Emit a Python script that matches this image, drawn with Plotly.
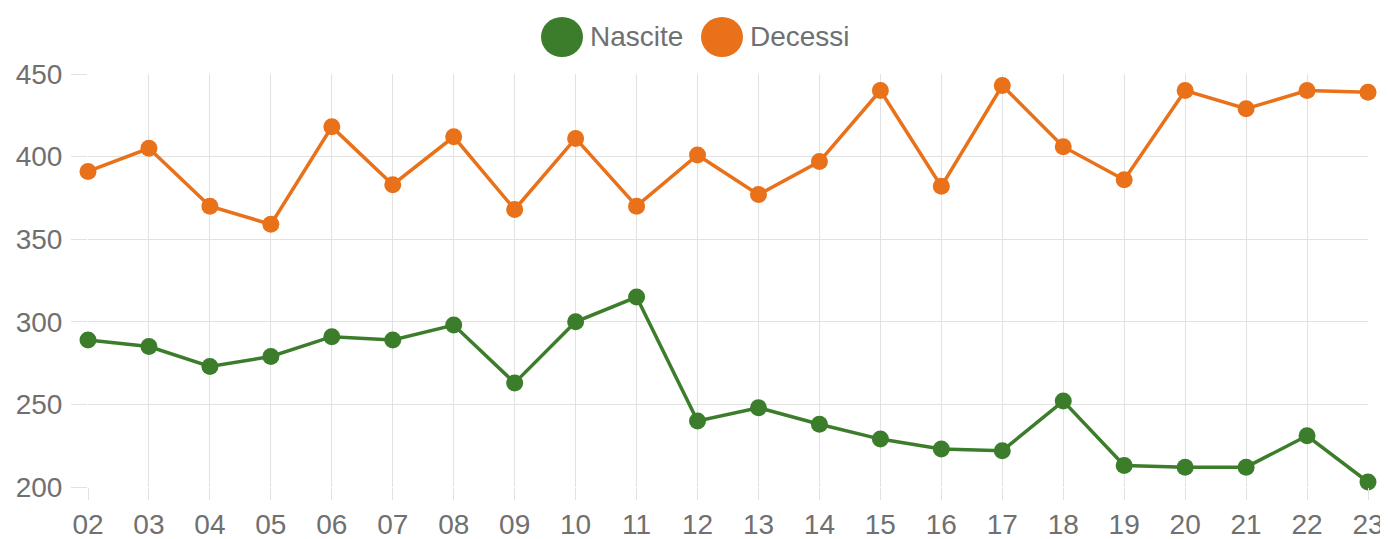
import plotly.graph_objects as go

years = ["02", "03", "04", "05", "06", "07", "08", "09", "10", "11", "12",
         "13", "14", "15", "16", "17", "18", "19", "20", "21", "22", "23"]
nascite = [289, 285, 273, 279, 291, 289, 298, 263, 300, 315, 240,
           248, 238, 229, 223, 222, 252, 213, 212, 212, 231, 203]
decessi = [391, 405, 370, 359, 418, 383, 412, 368, 411, 370, 401,
           377, 397, 440, 382, 443, 406, 386, 440, 429, 440, 439]
y_ticks = [200, 250, 300, 350, 400, 450]

GREEN = "#3b7d2b"
ORANGE = "#e8711a"
GRID = "#e2e2e2"
TXT = "#707070"
FONT = "Liberation Sans, Arial, sans-serif"
FS = 28

# figure geometry (page body has an 8px margin)
W, H = 1380, 531
L, R, T, B = 80, 20, 66, 52
PW, PH = W - L - R, H - T - B

fig = go.Figure()
fig.add_trace(go.Scatter(x=years, y=nascite, name="Nascite", mode="lines+markers",
                         line=dict(color=GREEN, width=3.5),
                         marker=dict(color=GREEN, size=17), cliponaxis=False))
fig.add_trace(go.Scatter(x=years, y=decessi, name="Decessi", mode="lines+markers",
                         line=dict(color=ORANGE, width=3.5),
                         marker=dict(color=ORANGE, size=17), cliponaxis=False))

# custom legend (large circles)
legend_items = [("Nascite", GREEN, 554, 580), ("Decessi", ORANGE, 714, 740)]
ly = 1 + (T - 29) / PH
for name, col, cx, tx in legend_items:
    fig.add_shape(type="circle", xref="paper", yref="paper",
                  xsizemode="pixel", ysizemode="pixel",
                  xanchor=(cx - L) / PW, yanchor=ly,
                  x0=-21, x1=21, y0=-20, y1=20,
                  fillcolor=col, line=dict(width=0))
    fig.add_annotation(text=name, xref="paper", yref="paper",
                       x=(tx - L) / PW, y=ly,
                       xanchor="left", yanchor="middle", showarrow=False,
                       font=dict(size=FS, color=TXT, family=FONT))

fig.update_layout(
    width=W, height=H,
    margin=dict(l=L, r=R, t=T, b=B, autoexpand=False),
    paper_bgcolor="white", plot_bgcolor="white",
    showlegend=False,
    font=dict(family=FONT, color=TXT, size=FS),
)
fig.update_xaxes(type="category", range=[0, len(years) - 1], showgrid=True,
                 gridcolor=GRID, gridwidth=1, ticks="outside", ticklen=12,
                 tickcolor=GRID, showline=False, zeroline=False, automargin=False,
                 tickfont=dict(size=FS, color=TXT, family=FONT))
fig.update_yaxes(range=[200, 450], tickvals=y_ticks, showgrid=True,
                 gridcolor=GRID, gridwidth=1, ticks="outside", ticklen=16,
                 tickcolor=GRID, showline=False, zeroline=False, automargin=False,
                 ticklabelstandoff=3,
                 tickfont=dict(size=FS, color=TXT, family=FONT))

fig.write_html("out.html")
